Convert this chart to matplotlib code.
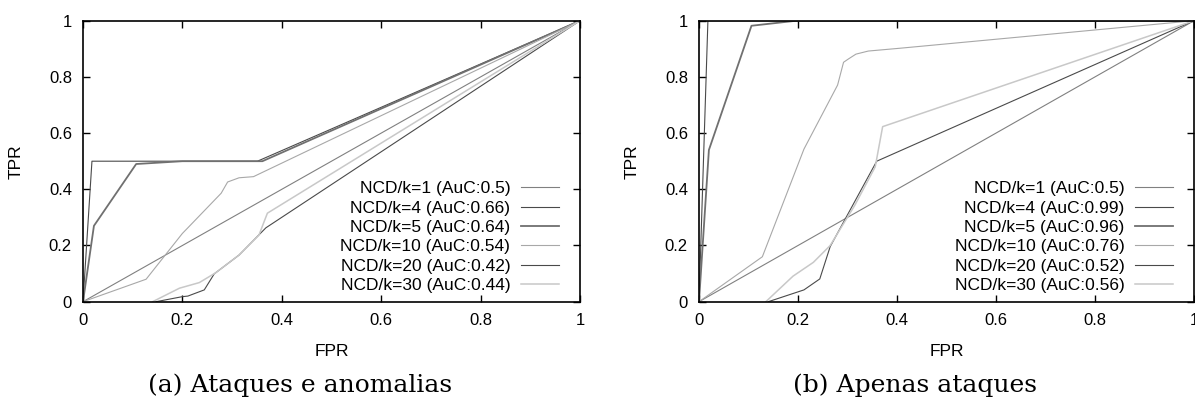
import matplotlib
matplotlib.use("Agg")
import matplotlib.pyplot as plt
import matplotlib.ticker as ticker

plt.rcParams['font.family'] = ['Liberation Sans', 'DejaVu Sans']

labels = ["NCD/k=1", "NCD/k=4", "NCD/k=5", "NCD/k=10", "NCD/k=20", "NCD/k=30"]
colors = ["#808080", "#4a4a4a", "#707070", "#a8a8a8", "#4a4a4a", "#c8c8c8"]
widths = [0.8, 0.8, 1.3, 0.8, 0.8, 1.1]

# (a) Ataques e anomalias
auc_a = ["0.5", "0.66", "0.64", "0.54", "0.42", "0.44"]
fpr_a = [
    [0, 1],
    [0, 0.018, 0.351, 1],
    [0, 0.022, 0.107, 0.2, 0.361, 1],
    [0, 0.127, 0.2, 0.211, 0.278, 0.291, 0.314, 0.343, 1],
    [0.147, 0.2, 0.211, 0.244, 0.264, 0.314, 0.368, 1],
    [0.14, 0.194, 0.234, 0.267, 0.314, 0.354, 0.371, 1],
]
tpr_a = [
    [0, 1],
    [0, 0.5, 0.5, 1],
    [0, 0.27, 0.49, 0.5, 0.5, 1],
    [0, 0.08, 0.243, 0.263, 0.386, 0.426, 0.441, 0.445, 1],
    [0, 0.018, 0.02, 0.042, 0.099, 0.166, 0.263, 1],
    [0, 0.048, 0.068, 0.103, 0.166, 0.237, 0.315, 1],
]

# (b) Apenas ataques
auc_b = ["0.5", "0.99", "0.96", "0.76", "0.52", "0.56"]
fpr_b = [
    [0, 1],
    [0, 0.018, 1],
    [0, 0.02, 0.106, 0.197, 1],
    [0, 0.128, 0.212, 0.28, 0.292, 0.302, 0.317, 0.342, 0.406, 1],
    [0.14, 0.212, 0.244, 0.265, 0.359, 1],
    [0.135, 0.19, 0.231, 0.265, 0.315, 0.356, 0.371, 1],
]
tpr_b = [
    [0, 1],
    [0, 1, 1],
    [0, 0.54, 0.982, 1, 1],
    [0, 0.16, 0.543, 0.771, 0.852, 0.864, 0.881, 0.892, 0.902, 1],
    [0, 0.042, 0.081, 0.196, 0.5, 1],
    [0, 0.091, 0.14, 0.2, 0.344, 0.48, 0.623, 1],
]

W, H = 1195, 403
fig = plt.figure(figsize=(W / 100, H / 100), dpi=100)


def draw(ax, fpr, tpr, auc):
    for i in range(len(labels)):
        ax.plot(fpr[i], tpr[i], color=colors[i], lw=widths[i],
                label="%s (AuC:%s)" % (labels[i], auc[i]))
    ax.set_xlim(0, 1)
    ax.set_ylim(0, 1)
    ax.set_xticks([0, 0.2, 0.4, 0.6, 0.8, 1])
    ax.set_yticks([0, 0.2, 0.4, 0.6, 0.8, 1])
    fmt = ticker.FormatStrFormatter('%g')
    ax.xaxis.set_major_formatter(fmt)
    ax.yaxis.set_major_formatter(fmt)
    ax.tick_params(direction='in', length=5, width=1, top=True, right=True,
                   labelsize=12, pad=8)
    for s in ax.spines.values():
        s.set_linewidth(1.2)
    ax.set_xlabel("FPR", fontsize=12.5, labelpad=12)
    ax.set_ylabel("TPR", fontsize=12.5, labelpad=18)
    leg = ax.legend(loc='lower right', frameon=False, fontsize=12.5,
                    markerfirst=False, handlelength=2.2, handletextpad=0.6,
                    labelspacing=0.24, borderaxespad=0.1,
                    bbox_to_anchor=(0.975, 0.0))
    for t in leg.get_texts():
        t.set_ha('right')


ax1 = fig.add_axes([83 / W, 1 - 301.7 / H, 497 / W, 281 / H])
draw(ax1, fpr_a, tpr_a, auc_a)
ax2 = fig.add_axes([699 / W, 1 - 301.7 / H, 495 / W, 281 / H])
draw(ax2, fpr_b, tpr_b, auc_b)

fig.text(300 / W, 1 - 385 / H, "(a) Ataques e anomalias", ha='center',
         va='center', fontsize=18, family=['DejaVu Serif'])
fig.text(915 / W, 1 - 385 / H, "(b) Apenas ataques", ha='center',
         va='center', fontsize=18, family=['DejaVu Serif'])

fig.savefig("out.png", dpi=100)
